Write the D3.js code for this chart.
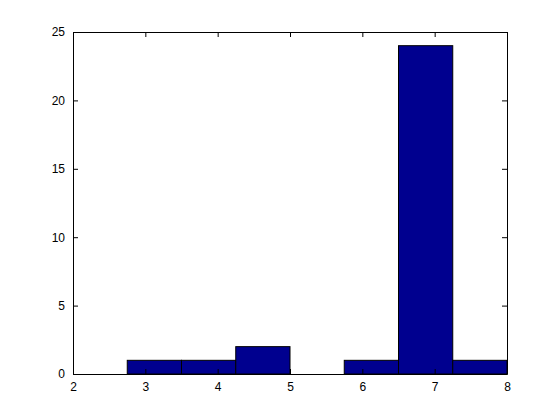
<!DOCTYPE html>
<html><head><meta charset="utf-8">
<script src="https://cdn.jsdelivr.net/npm/d3@7"></script>
<style>body{margin:0;background:#fff}svg{display:block}</style>
</head><body>
<script>
const binEdges = [2.75, 3.5, 4.25, 5.0, 5.75, 6.5, 7.25, 8.0];
const counts = [1, 1, 2, 0, 1, 24, 1];
const xTicks = [2, 3, 4, 5, 6, 7, 8];
const yTicks = [0, 5, 10, 15, 20, 25];

const W = 560, H = 420;
const m = {left: 73, top: 32, right: 53, bottom: 46};
const svg = d3.select("body").append("svg").attr("width", W).attr("height", H);
const x = d3.scaleLinear().domain([2, 8]).range([m.left, W - m.right]);
const y = d3.scaleLinear().domain([0, 25]).range([H - m.bottom, m.top]);

const bins = counts.map((c, i) => ({x0: binEdges[i], x1: binEdges[i + 1], c}));
svg.append("g").selectAll("rect").data(bins.filter(d => d.c > 0)).join("rect")
  .attr("x", d => x(d.x0)).attr("width", d => x(d.x1) - x(d.x0))
  .attr("y", d => y(d.c)).attr("height", d => y(0) - y(d.c))
  .attr("fill", "#00008f").attr("stroke", "#000").attr("stroke-width", 1);

const font = "Liberation Sans, Arial, sans-serif";
const tl = 5;
const fmt = d3.format("d");
const gx = svg.append("g").attr("transform", `translate(0,${H - m.bottom})`)
  .call(d3.axisBottom(x).tickValues(xTicks).tickFormat(fmt).tickSizeInner(-tl).tickSizeOuter(0).tickPadding(8));
const gxt = svg.append("g").attr("transform", `translate(0,${m.top})`)
  .call(d3.axisTop(x).tickValues(xTicks).tickSizeInner(-tl).tickSizeOuter(0).tickFormat(""));
const gy = svg.append("g").attr("transform", `translate(${m.left},0)`)
  .call(d3.axisLeft(y).tickValues(yTicks).tickFormat(fmt).tickSizeInner(-tl).tickSizeOuter(0).tickPadding(8));
const gyr = svg.append("g").attr("transform", `translate(${W - m.right},0)`)
  .call(d3.axisRight(y).tickValues(yTicks).tickSizeInner(-tl).tickSizeOuter(0).tickFormat(""));
[gx, gxt, gy, gyr].forEach(g => {
  g.selectAll("path,line").attr("stroke", "#000");
  g.selectAll("text").attr("fill", "#000").style("font-family", font).style("font-size", "12px");
});
</script>
</body></html>
